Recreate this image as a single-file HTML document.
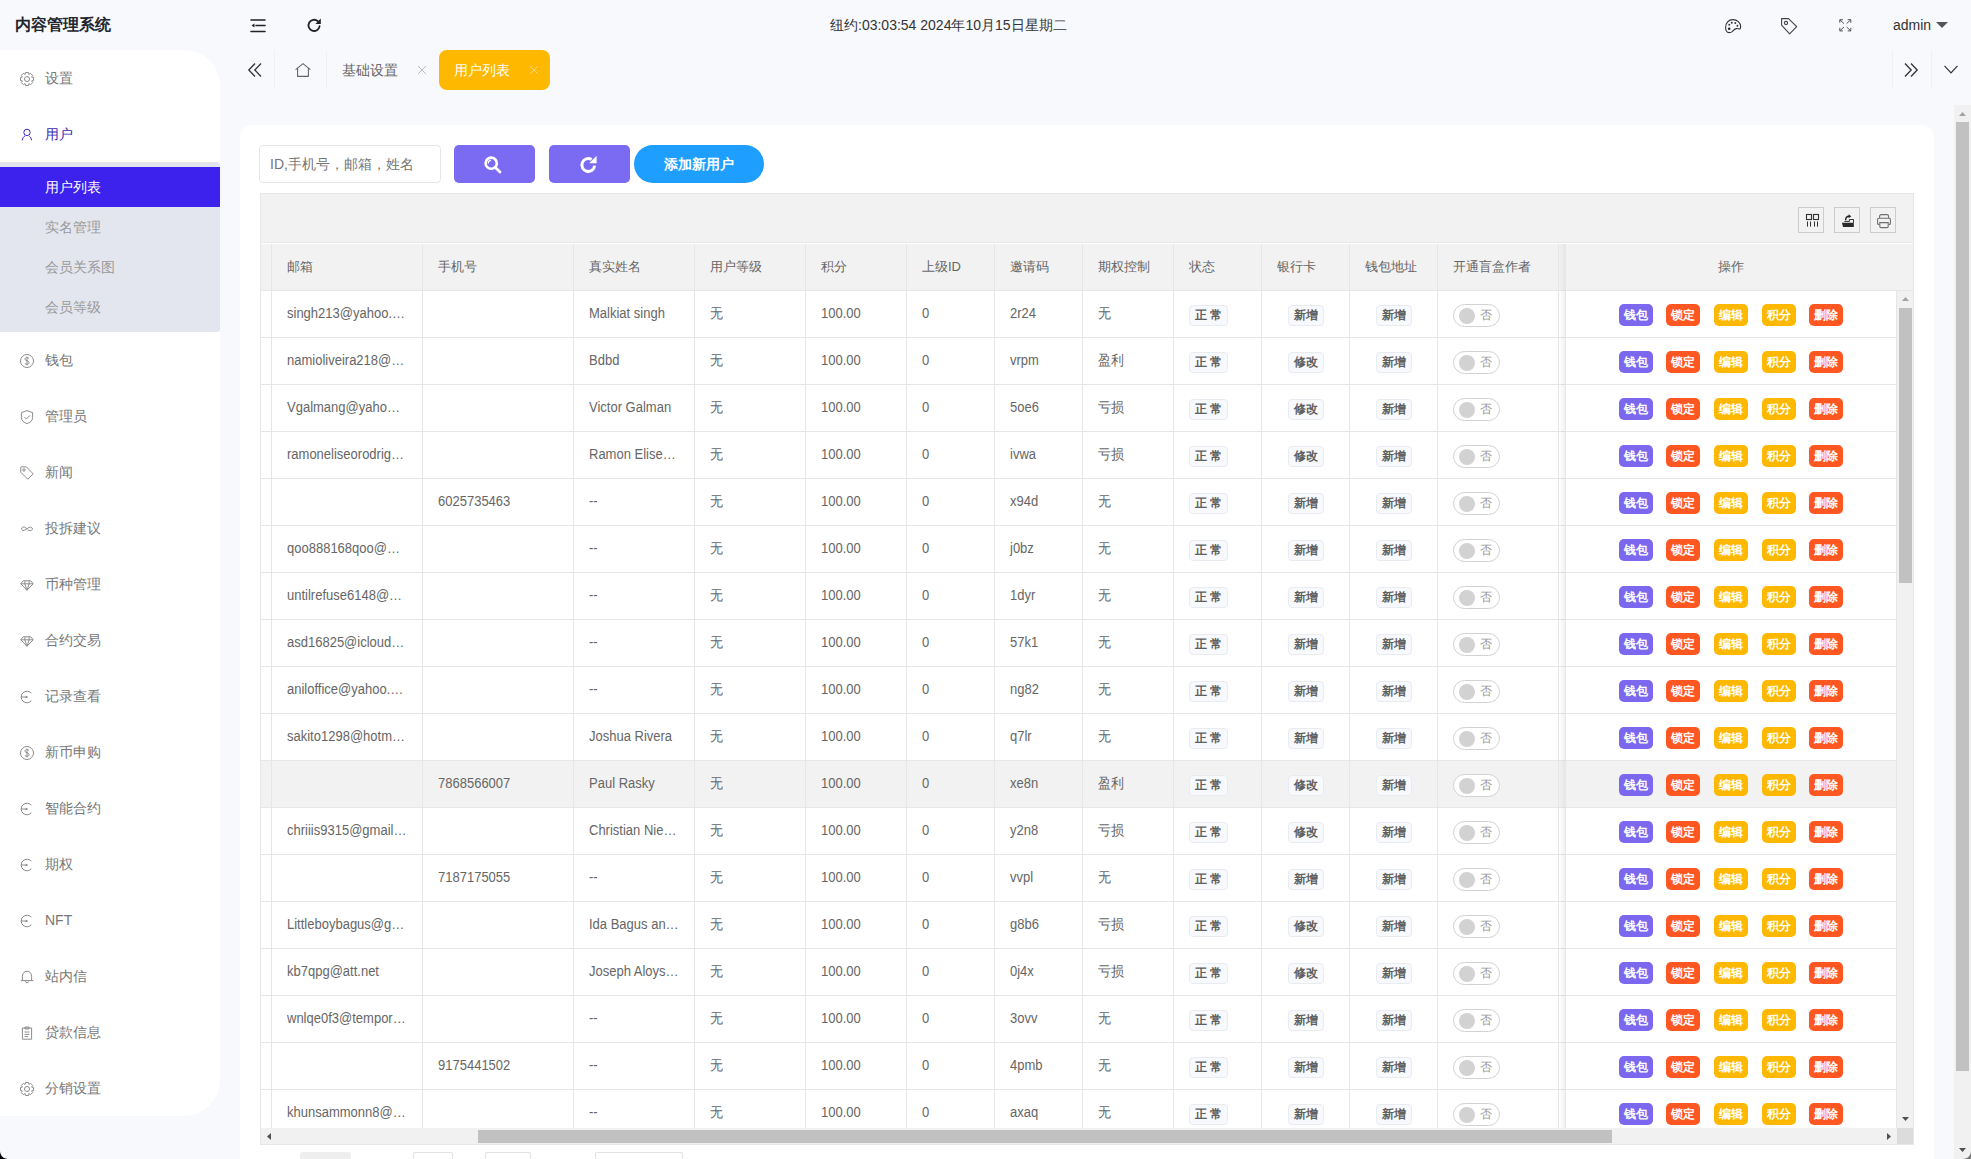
<!DOCTYPE html><html><head><meta charset="utf-8"><style>
*{box-sizing:border-box;margin:0;padding:0}
html,body{width:1971px;height:1159px;overflow:hidden}
body{position:relative;background:#f8f9fd;font-family:"Liberation Sans",sans-serif;font-size:14px;color:#666}
.a{position:absolute}
svg{position:absolute;overflow:visible}
.logo{left:15px;top:14px;font-size:16px;font-weight:bold;color:#23262e;line-height:22px;white-space:nowrap}
.time{left:830px;top:16px;line-height:18px;color:#333;white-space:nowrap}
.admin{left:1893px;top:16px;line-height:18px;color:#333}
.side{left:0;top:50px;width:220px;height:1066px;background:#fff;border-radius:0 36px 36px 0}
.mi{position:absolute;left:0;width:220px;height:56px;line-height:56px}
.mi span{position:absolute;left:45px;top:0;color:#777}
.sub{left:0;top:162px;width:220px;height:170px;background:#e4e6ef;border-radius:0 3px 3px 0}
.si{position:absolute;left:0;width:220px;height:40px;line-height:40px}
.si span{position:absolute;left:45px;color:#9a9a9a}
.tabt{left:342px;top:60px;line-height:20px;color:#666}
.tabact{left:439px;top:50px;width:111px;height:40px;border-radius:8px;background:#ffb800}
.card{left:240px;top:125px;width:1694px;height:1100px;background:#fff;border-radius:12px}
.inp{left:259px;top:145px;width:182px;height:38px;border:1px solid #e6e6e6;border-radius:4px;background:#fff}
.inp span{position:absolute;left:10px;top:9px;line-height:18px;color:#757575;white-space:nowrap}
.btn{top:145px;height:38px;border-radius:5px;background:#7b6bf2}
.addb{left:634px;top:145px;width:130px;height:38px;border-radius:19px;background:#1e9fff;color:#fff;font-weight:bold;text-align:center;line-height:38px}
.tbl{left:260px;top:193px;width:1654px;height:952px;border:1px solid #e6e6e6;background:#fff}
.tool{left:261px;top:194px;width:1652px;height:49px;background:#f2f2f2;border-bottom:1px solid #e6e6e6}
.tbox{top:207px;width:26px;height:26px;border:1px solid #ccc}
.head{left:261px;top:244px;width:1652px;height:47px;background:#f2f2f2;border-bottom:1px solid #e6e6e6}
.vl{top:244px;width:1px;height:884px;background:#e6e6e6}
.hl{left:261px;width:1635px;height:1px;background:#e6e6e6}
.ht{top:258px;line-height:18px;font-size:13px;color:#666;white-space:nowrap}
.ct{line-height:18px;font-size:13px;transform:scaleY(1.08);transform-origin:0 13.5px;color:#666;white-space:nowrap}
.bdg{height:21px;line-height:19px;border:1px solid #e8ebf0;background:#f7f9fc;border-radius:4px;font-size:12px;font-weight:bold;color:#606060;text-align:center}
.sw{width:47px;height:23px;border:1px solid #d2d2d2;border-radius:12px;background:#fff}
.sw i{position:absolute;left:5px;top:3px;width:16px;height:16px;border-radius:50%;background:#d2d2d2}
.sw b{position:absolute;left:26px;top:2px;line-height:17px;font-size:12px;font-weight:normal;color:#999}
.ob{width:34px;height:22px;border-radius:5px;color:#fff;font-size:12px;font-weight:bold;line-height:22px;text-align:center}
.hov{left:261px;width:1636px;height:46px;background:#f2f2f2}
</style></head><body>
<div class="a logo">内容管理系统</div>
<svg style="left:250px;top:19px" width="16" height="14" viewBox="0 0 16 14"><g stroke="#222" stroke-width="1.6" stroke-linecap="round"><line x1="1" y1="1" x2="15" y2="1"/><line x1="6" y1="6.5" x2="15" y2="6.5"/><line x1="1" y1="12.5" x2="15" y2="12.5"/></g><path d="M1.5 6.5 L4.5 4.5 L4.5 8.5Z" fill="#222"/></svg>
<svg style="left:307px;top:18px" width="15" height="15" viewBox="0 0 15 15"><path d="M12.6 8.2 A5.6 5.6 0 1 1 10.8 3.2" fill="none" stroke="#222" stroke-width="1.8" stroke-linecap="round"/><path d="M13.8 0.6 L13.8 6 L8.4 6Z" fill="#222"/></svg>
<div class="a time">纽约:03:03:54 2024年10月15日星期二</div>
<svg style="left:1725px;top:19px" width="17" height="15" viewBox="0 0 17 15"><path d="M4.2 13.6 C1.6 13.6 0.6 11 0.6 8.5 C0.6 4 3.6 0.6 7.8 0.6 C12.2 0.6 15.6 3.6 15.6 7.4 C15.6 9.2 15.3 10 14.6 10 C13.6 10 12.6 9.4 11.4 9.6 C9.4 10 8.2 11.6 7.2 12.6 C6.4 13.3 5.4 13.6 4.2 13.6Z" fill="none" stroke="#333" stroke-width="1.1"/><circle cx="4.2" cy="9.7" r="1.25" fill="#222"/><circle cx="4.3" cy="5.8" r="0.95" fill="#333"/><circle cx="6.8" cy="3.7" r="0.95" fill="#333"/><circle cx="10.3" cy="4" r="0.95" fill="#333"/><circle cx="12.4" cy="6.8" r="0.95" fill="#333"/></svg>
<svg style="left:1781px;top:18px" width="17" height="17" viewBox="0 0 17 17"><path d="M0.6 0.6 H7.5 L15.7 8.7 L8.6 15.8 L0.6 7.2Z" fill="none" stroke="#444" stroke-width="1.1" stroke-linejoin="round"/><circle cx="5" cy="5" r="1.6" fill="none" stroke="#444" stroke-width="1.1"/></svg>
<svg style="left:1838.5px;top:19px" width="13" height="13" viewBox="0 0 13 13"><g fill="none" stroke="#555" stroke-width="1"><path d="M5 4.6 L0.9 0.8 M0.8 3.8 V0.7 H3.9"/><path d="M7.6 4.6 L11.7 0.8 M8.7 0.7 H11.8 V3.8"/><path d="M5 8 L0.9 11.8 M0.8 8.8 V11.9 H3.9"/><path d="M7.6 8 L11.7 11.8 M11.8 8.8 V11.9 H8.7"/></g></svg>
<div class="a admin">admin</div>
<svg style="left:1936px;top:22px" width="12" height="6" viewBox="0 0 12 6"><path d="M0 0 H12 L6 6Z" fill="#555"/></svg>
<div class="a side"></div>
<svg style="left:20px;top:72px" width="14" height="14" viewBox="0 0 14 14"><path d="M5.13 2.36 L5.49 0.47 L8.51 0.47 L8.87 2.36 L8.95 2.40 L10.55 1.32 L12.68 3.45 L11.60 5.05 L11.64 5.13 L13.53 5.49 L13.53 8.51 L11.64 8.87 L11.60 8.95 L12.68 10.55 L10.55 12.68 L8.95 11.60 L8.87 11.64 L8.51 13.53 L5.49 13.53 L5.13 11.64 L5.05 11.60 L3.45 12.68 L1.32 10.55 L2.40 8.95 L2.36 8.87 L0.47 8.51 L0.47 5.49 L2.36 5.13 L2.40 5.05 L1.32 3.45 L3.45 1.32 L5.05 2.40Z" fill="none" stroke="#8c8c8c" stroke-width="1" stroke-linejoin="round"/><circle cx="7" cy="7" r="2.5" fill="none" stroke="#8c8c8c" stroke-width="1"/></svg>
<div class="mi" style="top:50px"><span>设置</span></div>
<svg style="left:20px;top:128px" width="14" height="14" viewBox="0 0 14 14"><circle cx="7" cy="4.4" r="3.2" fill="none" stroke="#3a2ab4" stroke-width="1" stroke-width="1.1"/><path d="M2.3 12.3 C2.6 10.2 3.4 8.8 4.9 8 M9.3 8.2 C10.4 9 11.2 10.2 11.6 12.3" fill="none" stroke="#3a2ab4" stroke-width="1" stroke-width="1.1"/></svg>
<div class="mi" style="top:106px"><span style="color:#3a2ab4">用户</span></div>
<div class="a sub"></div>
<div class="a" style="left:0;top:167px;width:220px;height:40px;background:#3d21ec"></div>
<div class="si" style="top:167px"><span style="color:#fff">用户列表</span></div>
<div class="si" style="top:207px"><span style="color:#9a9a9a">实名管理</span></div>
<div class="si" style="top:247px"><span style="color:#9a9a9a">会员关系图</span></div>
<div class="si" style="top:287px"><span style="color:#9a9a9a">会员等级</span></div>
<svg style="left:20px;top:354px" width="14" height="14" viewBox="0 0 14 14"><circle cx="7" cy="7" r="6.5" fill="none" stroke="#8c8c8c" stroke-width="1"/><path d="M9 4.6 C8.5 3.8 7.8 3.6 7 3.6 C5.8 3.6 5 4.3 5 5.2 C5 7.2 9 6.4 9 8.6 C9 9.6 8.2 10.3 7 10.3 C6 10.3 5.3 9.9 4.9 9.2 M7 2.6 V11.4" fill="none" stroke="#8c8c8c" stroke-width="1"/></svg>
<div class="mi" style="top:332px"><span>钱包</span></div>
<svg style="left:20px;top:410px" width="14" height="14" viewBox="0 0 14 14"><path d="M7 0.6 L12.6 2.6 V7.6 C12.6 10.6 10 12.6 7 13.6 C4 12.6 1.4 10.6 1.4 7.6 V2.6Z" fill="none" stroke="#8c8c8c" stroke-width="1"/><path d="M4.4 7 L6.4 9 L9.8 5.4" fill="none" stroke="#8c8c8c" stroke-width="1"/></svg>
<div class="mi" style="top:388px"><span>管理员</span></div>
<svg style="left:20px;top:466px" width="14" height="14" viewBox="0 0 14 14"><path d="M0.8 1.2 V6.2 L7.8 13.2 L13.2 7.8 L6.2 0.8 H1.2Z" fill="none" stroke="#8c8c8c" stroke-width="1" stroke-linejoin="round"/><circle cx="4" cy="4" r="1.2" fill="none" stroke="#8c8c8c" stroke-width="1"/></svg>
<div class="mi" style="top:444px"><span>新闻</span></div>
<svg style="left:20px;top:522px" width="14" height="14" viewBox="0 0 14 14"><path d="M7 7 C5.5 5 3.6 4.6 2.4 5.4 C1.2 6.2 1.4 8 2.8 8.4 C4.2 8.8 5.6 7.6 7 6.6 C8.4 5.6 10 4.8 11.4 5.4 C12.8 6 12.8 7.8 11.4 8.4 C10 9 8.2 8.4 7.4 7.6" fill="none" stroke="#8c8c8c" stroke-width="1" stroke-width="1.1"/></svg>
<div class="mi" style="top:500px"><span>投拆建议</span></div>
<svg style="left:20px;top:578px" width="14" height="14" viewBox="0 0 14 14"><path d="M3.2 2.8 H10.8 L13.2 5.8 L7 12.2 L0.8 5.8Z M0.8 5.8 H13.2 M4.8 5.8 L7 12.2 L9.2 5.8 M5 2.8 L4.8 5.8 M9 2.8 L9.2 5.8" fill="none" stroke="#8c8c8c" stroke-width="1" stroke-linejoin="round"/></svg>
<div class="mi" style="top:556px"><span>币种管理</span></div>
<svg style="left:20px;top:634px" width="14" height="14" viewBox="0 0 14 14"><path d="M3.2 2.8 H10.8 L13.2 5.8 L7 12.2 L0.8 5.8Z M0.8 5.8 H13.2 M4.8 5.8 L7 12.2 L9.2 5.8 M5 2.8 L4.8 5.8 M9 2.8 L9.2 5.8" fill="none" stroke="#8c8c8c" stroke-width="1" stroke-linejoin="round"/></svg>
<div class="mi" style="top:612px"><span>合约交易</span></div>
<svg style="left:20px;top:690px" width="14" height="14" viewBox="0 0 14 14"><path d="M11.4 3.2 A5.8 5.8 0 1 0 11.4 10.8" fill="none" stroke="#8c8c8c" stroke-width="1"/><path d="M0.8 7 H6.4" fill="none" stroke="#8c8c8c" stroke-width="1"/><circle cx="6.6" cy="7" r="1.1" fill="#8c8c8c"/></svg>
<div class="mi" style="top:668px"><span>记录查看</span></div>
<svg style="left:20px;top:746px" width="14" height="14" viewBox="0 0 14 14"><circle cx="7" cy="7" r="6.5" fill="none" stroke="#8c8c8c" stroke-width="1"/><path d="M9 4.6 C8.5 3.8 7.8 3.6 7 3.6 C5.8 3.6 5 4.3 5 5.2 C5 7.2 9 6.4 9 8.6 C9 9.6 8.2 10.3 7 10.3 C6 10.3 5.3 9.9 4.9 9.2 M7 2.6 V11.4" fill="none" stroke="#8c8c8c" stroke-width="1"/></svg>
<div class="mi" style="top:724px"><span>新币申购</span></div>
<svg style="left:20px;top:802px" width="14" height="14" viewBox="0 0 14 14"><path d="M11.4 3.2 A5.8 5.8 0 1 0 11.4 10.8" fill="none" stroke="#8c8c8c" stroke-width="1"/><path d="M0.8 7 H6.4" fill="none" stroke="#8c8c8c" stroke-width="1"/><circle cx="6.6" cy="7" r="1.1" fill="#8c8c8c"/></svg>
<div class="mi" style="top:780px"><span>智能合约</span></div>
<svg style="left:20px;top:858px" width="14" height="14" viewBox="0 0 14 14"><path d="M11.4 3.2 A5.8 5.8 0 1 0 11.4 10.8" fill="none" stroke="#8c8c8c" stroke-width="1"/><path d="M0.8 7 H6.4" fill="none" stroke="#8c8c8c" stroke-width="1"/><circle cx="6.6" cy="7" r="1.1" fill="#8c8c8c"/></svg>
<div class="mi" style="top:836px"><span>期权</span></div>
<svg style="left:20px;top:914px" width="14" height="14" viewBox="0 0 14 14"><path d="M11.4 3.2 A5.8 5.8 0 1 0 11.4 10.8" fill="none" stroke="#8c8c8c" stroke-width="1"/><path d="M0.8 7 H6.4" fill="none" stroke="#8c8c8c" stroke-width="1"/><circle cx="6.6" cy="7" r="1.1" fill="#8c8c8c"/></svg>
<div class="mi" style="top:892px"><span>NFT</span></div>
<svg style="left:20px;top:970px" width="14" height="14" viewBox="0 0 14 14"><path d="M2.4 10.6 V6.2 C2.4 3.4 4.4 1.2 7 1.2 C9.6 1.2 11.6 3.4 11.6 6.2 V10.6 M0.8 10.6 H13.2 M5.6 10.8 V11.6 C5.6 12.4 6.2 12.8 7 12.8 C7.8 12.8 8.4 12.4 8.4 11.6 V10.8" fill="none" stroke="#8c8c8c" stroke-width="1"/></svg>
<div class="mi" style="top:948px"><span>站内信</span></div>
<svg style="left:20px;top:1026px" width="14" height="14" viewBox="0 0 14 14"><path d="M2.4 2 H11.6 V13.2 H2.4Z M5 2 V1 H9 V3 H5Z M4.6 6 H9.4 M4.6 8.4 H9.4 M4.6 10.6 H8" fill="none" stroke="#8c8c8c" stroke-width="1" stroke="#bbb"/></svg>
<div class="mi" style="top:1004px"><span>贷款信息</span></div>
<svg style="left:20px;top:1082px" width="14" height="14" viewBox="0 0 14 14"><path d="M5.13 2.36 L5.49 0.47 L8.51 0.47 L8.87 2.36 L8.95 2.40 L10.55 1.32 L12.68 3.45 L11.60 5.05 L11.64 5.13 L13.53 5.49 L13.53 8.51 L11.64 8.87 L11.60 8.95 L12.68 10.55 L10.55 12.68 L8.95 11.60 L8.87 11.64 L8.51 13.53 L5.49 13.53 L5.13 11.64 L5.05 11.60 L3.45 12.68 L1.32 10.55 L2.40 8.95 L2.36 8.87 L0.47 8.51 L0.47 5.49 L2.36 5.13 L2.40 5.05 L1.32 3.45 L3.45 1.32 L5.05 2.40Z" fill="none" stroke="#8c8c8c" stroke-width="1" stroke-linejoin="round"/><circle cx="7" cy="7" r="2.5" fill="none" stroke="#8c8c8c" stroke-width="1"/></svg>
<div class="mi" style="top:1060px"><span>分销设置</span></div>
<svg style="left:248px;top:63px" width="14" height="14" viewBox="0 0 14 14"><path d="M7 0.5 L0.8 7 L7 13.5 M13 0.5 L6.8 7 L13 13.5" fill="none" stroke="#333" stroke-width="1.3"/></svg>
<div class="a" style="left:274px;top:50px;width:1px;height:39px;background:#f0f1f5"></div>
<svg style="left:295px;top:63px" width="16" height="14" viewBox="0 0 16 14"><path d="M0.6 6.6 L8 0.6 L15.4 6.6 M2.6 5 V13.4 H13.4 V5" fill="none" stroke="#666" stroke-width="1.1"/></svg>
<div class="a" style="left:326px;top:50px;width:1px;height:39px;background:#f0f1f5"></div>
<div class="a tabt">基础设置</div>
<svg style="left:418px;top:66px" width="8" height="8" viewBox="0 0 8 8"><path d="M0 0 L8 8 M8 0 L0 8" stroke="#bbb" stroke-width="1"/></svg>
<div class="a tabact"></div>
<div class="a" style="left:454px;top:60px;line-height:20px;color:#fff">用户列表</div>
<svg style="left:530px;top:66px" width="8" height="8" viewBox="0 0 8 8"><path d="M0 0 L8 8 M8 0 L0 8" stroke="#ffd68a" stroke-width="1"/></svg>
<div class="a" style="left:1892px;top:50px;width:1px;height:39px;background:#f0f1f5"></div>
<div class="a" style="left:1931px;top:50px;width:1px;height:39px;background:#f0f1f5"></div>
<svg style="left:1904px;top:63px" width="14" height="14" viewBox="0 0 14 14"><path d="M1 0.5 L7.2 7 L1 13.5 M7 0.5 L13.2 7 L7 13.5" fill="none" stroke="#333" stroke-width="1.3"/></svg>
<svg style="left:1944px;top:65px" width="14" height="9" viewBox="0 0 14 9"><path d="M0.5 0.8 L7 7.8 L13.5 0.8" fill="none" stroke="#333" stroke-width="1.2"/></svg>
<div class="a" style="left:1954px;top:105px;width:17px;height:1054px;background:#f1f1f1"></div>
<div class="a" style="left:1956px;top:122px;width:13px;height:949px;background:#c1c1c1"></div>
<svg style="left:1959px;top:112px" width="7" height="4" viewBox="0 0 7 4"><path d="M0 4 H7 L3.5 0Z" fill="#a3a3a3"/></svg>
<svg style="left:1959px;top:1148px" width="7" height="4" viewBox="0 0 7 4"><path d="M0 0 H7 L3.5 4Z" fill="#505050"/></svg>
<div class="a card"></div>
<div class="a inp"><span>ID,手机号，邮箱，姓名</span></div>
<div class="a btn" style="left:454px;width:81px"></div>
<div class="a btn" style="left:549px;width:81px"></div>
<svg style="left:484px;top:156px" width="18" height="17" viewBox="0 0 18 17"><circle cx="7.2" cy="7.2" r="5.6" fill="none" stroke="#fff" stroke-width="2.6"/><path d="M11.4 11.4 L16 16" stroke="#fff" stroke-width="2.8" stroke-linecap="round"/><path d="M4.2 7.5 C4.2 5.6 5.4 4.4 7 4.2" fill="none" stroke="#fff" stroke-width="1.2"/></svg>
<svg style="left:579px;top:155px" width="19" height="19" viewBox="0 0 19 19"><path d="M15.6 10.6 A6.4 6.4 0 1 1 12.6 4.6" fill="none" stroke="#fff" stroke-width="3"/><path d="M17.6 0.8 L17.6 8.2 L10.2 8.2Z" fill="#fff"/></svg>
<div class="a addb">添加新用户</div>
<div class="a tbl"></div>
<div class="a tool"></div>
<div class="a tbox" style="left:1798px"></div>
<div class="a tbox" style="left:1834px"></div>
<div class="a tbox" style="left:1870px"></div>
<svg style="left:1806px;top:214px" width="13" height="13" viewBox="0 0 13 13"><g fill="none" stroke="#333" stroke-width="1.1"><rect x="0.5" y="0.5" width="5" height="5"/><rect x="7.5" y="0.5" width="5" height="5"/></g><g stroke="#333" stroke-width="1"><line x1="1.5" y1="7.5" x2="1.5" y2="12.6"/><line x1="4.5" y1="7.5" x2="4.5" y2="12.6"/><line x1="8.5" y1="7.5" x2="8.5" y2="12.6"/><line x1="11.5" y1="7.5" x2="11.5" y2="12.6"/></g></svg>
<svg style="left:1841px;top:213px" width="14" height="15" viewBox="0 0 14 15"><path d="M0.9 9.7 H12.8 V13.9 H2.1Z" fill="#2a2a2a"/><path d="M3.4 8.4 H8.4 V6.5 H12.5 V9.8" fill="none" stroke="#333" stroke-width="1"/><path d="M4.6 7.2 C4.6 4.4 5.8 3.2 8.2 3.2" fill="none" stroke="#222" stroke-width="1.4"/><path d="M7.6 1.2 L10.2 3.2 L7.6 5.2Z" fill="#222"/></svg>
<svg style="left:1877px;top:214px" width="15" height="15" viewBox="0 0 15 15"><g fill="none" stroke="#707070" stroke-width="1.1"><path d="M2.6 4 V2.2 C2.6 1.2 3.2 0.6 4.2 0.6 H10 C11 0.6 11.6 1.2 11.6 2.2 V4"/><path d="M2.4 10.4 H1.6 C0.9 10.4 0.6 10 0.6 9.4 V5.4 C0.6 4.6 1 4.2 1.8 4.2 H12.2 C13 4.2 13.4 4.6 13.4 5.4 V9.4 C13.4 10 13.1 10.4 12.4 10.4 H11.6"/><path d="M2.8 8.6 H11.2 V12.4 C11.2 13.1 10.8 13.6 10 13.6 H4 C3.2 13.6 2.8 13.1 2.8 12.4Z"/></g></svg>
<div class="a head"></div>
<div class="a hov" style="top:761px"></div>
<div class="a hl" style="top:337px"></div>
<div class="a hl" style="top:384px"></div>
<div class="a hl" style="top:431px"></div>
<div class="a hl" style="top:478px"></div>
<div class="a hl" style="top:525px"></div>
<div class="a hl" style="top:572px"></div>
<div class="a hl" style="top:619px"></div>
<div class="a hl" style="top:666px"></div>
<div class="a hl" style="top:713px"></div>
<div class="a hl" style="top:760px"></div>
<div class="a hl" style="top:807px"></div>
<div class="a hl" style="top:854px"></div>
<div class="a hl" style="top:901px"></div>
<div class="a hl" style="top:948px"></div>
<div class="a hl" style="top:995px"></div>
<div class="a hl" style="top:1042px"></div>
<div class="a hl" style="top:1089px"></div>
<div class="a hl" style="top:1136px"></div>
<div class="a vl" style="left:271px"></div>
<div class="a vl" style="left:422px"></div>
<div class="a vl" style="left:573px"></div>
<div class="a vl" style="left:694px"></div>
<div class="a vl" style="left:805px"></div>
<div class="a vl" style="left:906px"></div>
<div class="a vl" style="left:994px"></div>
<div class="a vl" style="left:1082px"></div>
<div class="a vl" style="left:1173px"></div>
<div class="a vl" style="left:1261px"></div>
<div class="a vl" style="left:1349px"></div>
<div class="a vl" style="left:1437px"></div>
<div class="a vl" style="left:1558px"></div>
<div class="a ht" style="left:287px">邮箱</div>
<div class="a ht" style="left:438px">手机号</div>
<div class="a ht" style="left:589px">真实姓名</div>
<div class="a ht" style="left:710px">用户等级</div>
<div class="a ht" style="left:821px">积分</div>
<div class="a ht" style="left:922px">上级ID</div>
<div class="a ht" style="left:1010px">邀请码</div>
<div class="a ht" style="left:1098px">期权控制</div>
<div class="a ht" style="left:1189px">状态</div>
<div class="a ht" style="left:1277px">银行卡</div>
<div class="a ht" style="left:1365px">钱包地址</div>
<div class="a ht" style="left:1453px">开通盲盒作者</div>
<div class="a ct" style="left:287px;top:305px">singh213@yahoo.…</div>
<div class="a ct" style="left:589px;top:305px">Malkiat singh</div>
<div class="a ct" style="left:710px;top:305px">无</div>
<div class="a ct" style="left:821px;top:305px">100.00</div>
<div class="a ct" style="left:922px;top:305px">0</div>
<div class="a ct" style="left:1010px;top:305px">2r24</div>
<div class="a ct" style="left:1098px;top:305px">无</div>
<div class="a bdg" style="left:1189px;top:305px;width:39px">正 常</div>
<div class="a bdg" style="left:1288px;top:305px;width:36px">新增</div>
<div class="a bdg" style="left:1376px;top:305px;width:36px">新增</div>
<div class="a sw" style="left:1453px;top:304px"><i></i><b>否</b></div>
<div class="a ct" style="left:287px;top:352px">namioliveira218@…</div>
<div class="a ct" style="left:589px;top:352px">Bdbd</div>
<div class="a ct" style="left:710px;top:352px">无</div>
<div class="a ct" style="left:821px;top:352px">100.00</div>
<div class="a ct" style="left:922px;top:352px">0</div>
<div class="a ct" style="left:1010px;top:352px">vrpm</div>
<div class="a ct" style="left:1098px;top:352px">盈利</div>
<div class="a bdg" style="left:1189px;top:352px;width:39px">正 常</div>
<div class="a bdg" style="left:1288px;top:352px;width:36px">修改</div>
<div class="a bdg" style="left:1376px;top:352px;width:36px">新增</div>
<div class="a sw" style="left:1453px;top:351px"><i></i><b>否</b></div>
<div class="a ct" style="left:287px;top:399px">Vgalmang@yaho…</div>
<div class="a ct" style="left:589px;top:399px">Victor Galman</div>
<div class="a ct" style="left:710px;top:399px">无</div>
<div class="a ct" style="left:821px;top:399px">100.00</div>
<div class="a ct" style="left:922px;top:399px">0</div>
<div class="a ct" style="left:1010px;top:399px">5oe6</div>
<div class="a ct" style="left:1098px;top:399px">亏损</div>
<div class="a bdg" style="left:1189px;top:399px;width:39px">正 常</div>
<div class="a bdg" style="left:1288px;top:399px;width:36px">修改</div>
<div class="a bdg" style="left:1376px;top:399px;width:36px">新增</div>
<div class="a sw" style="left:1453px;top:398px"><i></i><b>否</b></div>
<div class="a ct" style="left:287px;top:446px">ramoneliseorodrig…</div>
<div class="a ct" style="left:589px;top:446px">Ramon Elise…</div>
<div class="a ct" style="left:710px;top:446px">无</div>
<div class="a ct" style="left:821px;top:446px">100.00</div>
<div class="a ct" style="left:922px;top:446px">0</div>
<div class="a ct" style="left:1010px;top:446px">ivwa</div>
<div class="a ct" style="left:1098px;top:446px">亏损</div>
<div class="a bdg" style="left:1189px;top:446px;width:39px">正 常</div>
<div class="a bdg" style="left:1288px;top:446px;width:36px">修改</div>
<div class="a bdg" style="left:1376px;top:446px;width:36px">新增</div>
<div class="a sw" style="left:1453px;top:445px"><i></i><b>否</b></div>
<div class="a ct" style="left:438px;top:493px">6025735463</div>
<div class="a ct" style="left:589px;top:493px">--</div>
<div class="a ct" style="left:710px;top:493px">无</div>
<div class="a ct" style="left:821px;top:493px">100.00</div>
<div class="a ct" style="left:922px;top:493px">0</div>
<div class="a ct" style="left:1010px;top:493px">x94d</div>
<div class="a ct" style="left:1098px;top:493px">无</div>
<div class="a bdg" style="left:1189px;top:493px;width:39px">正 常</div>
<div class="a bdg" style="left:1288px;top:493px;width:36px">新增</div>
<div class="a bdg" style="left:1376px;top:493px;width:36px">新增</div>
<div class="a sw" style="left:1453px;top:492px"><i></i><b>否</b></div>
<div class="a ct" style="left:287px;top:540px">qoo888168qoo@…</div>
<div class="a ct" style="left:589px;top:540px">--</div>
<div class="a ct" style="left:710px;top:540px">无</div>
<div class="a ct" style="left:821px;top:540px">100.00</div>
<div class="a ct" style="left:922px;top:540px">0</div>
<div class="a ct" style="left:1010px;top:540px">j0bz</div>
<div class="a ct" style="left:1098px;top:540px">无</div>
<div class="a bdg" style="left:1189px;top:540px;width:39px">正 常</div>
<div class="a bdg" style="left:1288px;top:540px;width:36px">新增</div>
<div class="a bdg" style="left:1376px;top:540px;width:36px">新增</div>
<div class="a sw" style="left:1453px;top:539px"><i></i><b>否</b></div>
<div class="a ct" style="left:287px;top:587px">untilrefuse6148@…</div>
<div class="a ct" style="left:589px;top:587px">--</div>
<div class="a ct" style="left:710px;top:587px">无</div>
<div class="a ct" style="left:821px;top:587px">100.00</div>
<div class="a ct" style="left:922px;top:587px">0</div>
<div class="a ct" style="left:1010px;top:587px">1dyr</div>
<div class="a ct" style="left:1098px;top:587px">无</div>
<div class="a bdg" style="left:1189px;top:587px;width:39px">正 常</div>
<div class="a bdg" style="left:1288px;top:587px;width:36px">新增</div>
<div class="a bdg" style="left:1376px;top:587px;width:36px">新增</div>
<div class="a sw" style="left:1453px;top:586px"><i></i><b>否</b></div>
<div class="a ct" style="left:287px;top:634px">asd16825@icloud…</div>
<div class="a ct" style="left:589px;top:634px">--</div>
<div class="a ct" style="left:710px;top:634px">无</div>
<div class="a ct" style="left:821px;top:634px">100.00</div>
<div class="a ct" style="left:922px;top:634px">0</div>
<div class="a ct" style="left:1010px;top:634px">57k1</div>
<div class="a ct" style="left:1098px;top:634px">无</div>
<div class="a bdg" style="left:1189px;top:634px;width:39px">正 常</div>
<div class="a bdg" style="left:1288px;top:634px;width:36px">新增</div>
<div class="a bdg" style="left:1376px;top:634px;width:36px">新增</div>
<div class="a sw" style="left:1453px;top:633px"><i></i><b>否</b></div>
<div class="a ct" style="left:287px;top:681px">aniloffice@yahoo.…</div>
<div class="a ct" style="left:589px;top:681px">--</div>
<div class="a ct" style="left:710px;top:681px">无</div>
<div class="a ct" style="left:821px;top:681px">100.00</div>
<div class="a ct" style="left:922px;top:681px">0</div>
<div class="a ct" style="left:1010px;top:681px">ng82</div>
<div class="a ct" style="left:1098px;top:681px">无</div>
<div class="a bdg" style="left:1189px;top:681px;width:39px">正 常</div>
<div class="a bdg" style="left:1288px;top:681px;width:36px">新增</div>
<div class="a bdg" style="left:1376px;top:681px;width:36px">新增</div>
<div class="a sw" style="left:1453px;top:680px"><i></i><b>否</b></div>
<div class="a ct" style="left:287px;top:728px">sakito1298@hotm…</div>
<div class="a ct" style="left:589px;top:728px">Joshua Rivera</div>
<div class="a ct" style="left:710px;top:728px">无</div>
<div class="a ct" style="left:821px;top:728px">100.00</div>
<div class="a ct" style="left:922px;top:728px">0</div>
<div class="a ct" style="left:1010px;top:728px">q7lr</div>
<div class="a ct" style="left:1098px;top:728px">无</div>
<div class="a bdg" style="left:1189px;top:728px;width:39px">正 常</div>
<div class="a bdg" style="left:1288px;top:728px;width:36px">新增</div>
<div class="a bdg" style="left:1376px;top:728px;width:36px">新增</div>
<div class="a sw" style="left:1453px;top:727px"><i></i><b>否</b></div>
<div class="a ct" style="left:438px;top:775px">7868566007</div>
<div class="a ct" style="left:589px;top:775px">Paul Rasky</div>
<div class="a ct" style="left:710px;top:775px">无</div>
<div class="a ct" style="left:821px;top:775px">100.00</div>
<div class="a ct" style="left:922px;top:775px">0</div>
<div class="a ct" style="left:1010px;top:775px">xe8n</div>
<div class="a ct" style="left:1098px;top:775px">盈利</div>
<div class="a bdg" style="left:1189px;top:775px;width:39px">正 常</div>
<div class="a bdg" style="left:1288px;top:775px;width:36px">修改</div>
<div class="a bdg" style="left:1376px;top:775px;width:36px">新增</div>
<div class="a sw" style="left:1453px;top:774px"><i></i><b>否</b></div>
<div class="a ct" style="left:287px;top:822px">chriiis9315@gmail…</div>
<div class="a ct" style="left:589px;top:822px">Christian Nie…</div>
<div class="a ct" style="left:710px;top:822px">无</div>
<div class="a ct" style="left:821px;top:822px">100.00</div>
<div class="a ct" style="left:922px;top:822px">0</div>
<div class="a ct" style="left:1010px;top:822px">y2n8</div>
<div class="a ct" style="left:1098px;top:822px">亏损</div>
<div class="a bdg" style="left:1189px;top:822px;width:39px">正 常</div>
<div class="a bdg" style="left:1288px;top:822px;width:36px">修改</div>
<div class="a bdg" style="left:1376px;top:822px;width:36px">新增</div>
<div class="a sw" style="left:1453px;top:821px"><i></i><b>否</b></div>
<div class="a ct" style="left:438px;top:869px">7187175055</div>
<div class="a ct" style="left:589px;top:869px">--</div>
<div class="a ct" style="left:710px;top:869px">无</div>
<div class="a ct" style="left:821px;top:869px">100.00</div>
<div class="a ct" style="left:922px;top:869px">0</div>
<div class="a ct" style="left:1010px;top:869px">vvpl</div>
<div class="a ct" style="left:1098px;top:869px">无</div>
<div class="a bdg" style="left:1189px;top:869px;width:39px">正 常</div>
<div class="a bdg" style="left:1288px;top:869px;width:36px">新增</div>
<div class="a bdg" style="left:1376px;top:869px;width:36px">新增</div>
<div class="a sw" style="left:1453px;top:868px"><i></i><b>否</b></div>
<div class="a ct" style="left:287px;top:916px">Littleboybagus@g…</div>
<div class="a ct" style="left:589px;top:916px">Ida Bagus an…</div>
<div class="a ct" style="left:710px;top:916px">无</div>
<div class="a ct" style="left:821px;top:916px">100.00</div>
<div class="a ct" style="left:922px;top:916px">0</div>
<div class="a ct" style="left:1010px;top:916px">g8b6</div>
<div class="a ct" style="left:1098px;top:916px">亏损</div>
<div class="a bdg" style="left:1189px;top:916px;width:39px">正 常</div>
<div class="a bdg" style="left:1288px;top:916px;width:36px">修改</div>
<div class="a bdg" style="left:1376px;top:916px;width:36px">新增</div>
<div class="a sw" style="left:1453px;top:915px"><i></i><b>否</b></div>
<div class="a ct" style="left:287px;top:963px">kb7qpg@att.net</div>
<div class="a ct" style="left:589px;top:963px">Joseph Aloys…</div>
<div class="a ct" style="left:710px;top:963px">无</div>
<div class="a ct" style="left:821px;top:963px">100.00</div>
<div class="a ct" style="left:922px;top:963px">0</div>
<div class="a ct" style="left:1010px;top:963px">0j4x</div>
<div class="a ct" style="left:1098px;top:963px">亏损</div>
<div class="a bdg" style="left:1189px;top:963px;width:39px">正 常</div>
<div class="a bdg" style="left:1288px;top:963px;width:36px">修改</div>
<div class="a bdg" style="left:1376px;top:963px;width:36px">新增</div>
<div class="a sw" style="left:1453px;top:962px"><i></i><b>否</b></div>
<div class="a ct" style="left:287px;top:1010px">wnlqe0f3@tempor…</div>
<div class="a ct" style="left:589px;top:1010px">--</div>
<div class="a ct" style="left:710px;top:1010px">无</div>
<div class="a ct" style="left:821px;top:1010px">100.00</div>
<div class="a ct" style="left:922px;top:1010px">0</div>
<div class="a ct" style="left:1010px;top:1010px">3ovv</div>
<div class="a ct" style="left:1098px;top:1010px">无</div>
<div class="a bdg" style="left:1189px;top:1010px;width:39px">正 常</div>
<div class="a bdg" style="left:1288px;top:1010px;width:36px">新增</div>
<div class="a bdg" style="left:1376px;top:1010px;width:36px">新增</div>
<div class="a sw" style="left:1453px;top:1009px"><i></i><b>否</b></div>
<div class="a ct" style="left:438px;top:1057px">9175441502</div>
<div class="a ct" style="left:589px;top:1057px">--</div>
<div class="a ct" style="left:710px;top:1057px">无</div>
<div class="a ct" style="left:821px;top:1057px">100.00</div>
<div class="a ct" style="left:922px;top:1057px">0</div>
<div class="a ct" style="left:1010px;top:1057px">4pmb</div>
<div class="a ct" style="left:1098px;top:1057px">无</div>
<div class="a bdg" style="left:1189px;top:1057px;width:39px">正 常</div>
<div class="a bdg" style="left:1288px;top:1057px;width:36px">新增</div>
<div class="a bdg" style="left:1376px;top:1057px;width:36px">新增</div>
<div class="a sw" style="left:1453px;top:1056px"><i></i><b>否</b></div>
<div class="a ct" style="left:287px;top:1104px">khunsammonn8@…</div>
<div class="a ct" style="left:589px;top:1104px">--</div>
<div class="a ct" style="left:710px;top:1104px">无</div>
<div class="a ct" style="left:821px;top:1104px">100.00</div>
<div class="a ct" style="left:922px;top:1104px">0</div>
<div class="a ct" style="left:1010px;top:1104px">axaq</div>
<div class="a ct" style="left:1098px;top:1104px">无</div>
<div class="a bdg" style="left:1189px;top:1104px;width:39px">正 常</div>
<div class="a bdg" style="left:1288px;top:1104px;width:36px">新增</div>
<div class="a bdg" style="left:1376px;top:1104px;width:36px">新增</div>
<div class="a sw" style="left:1453px;top:1103px"><i></i><b>否</b></div>
<div class="a" style="left:1559px;top:244px;width:6px;height:884px;background:linear-gradient(to right,rgba(0,0,0,0),rgba(0,0,0,.05))"></div>
<div class="a vl" style="left:1565px"></div>
<div class="a ht" style="left:1718px">操作</div>
<div class="a ob" style="left:1619px;top:304px;background:#7b68ee">钱包</div>
<div class="a ob" style="left:1666px;top:304px;background:#ff5722">锁定</div>
<div class="a ob" style="left:1714px;top:304px;background:#ffb800">编辑</div>
<div class="a ob" style="left:1762px;top:304px;background:#ffb800">积分</div>
<div class="a ob" style="left:1809px;top:304px;background:#ff5722">删除</div>
<div class="a ob" style="left:1619px;top:351px;background:#7b68ee">钱包</div>
<div class="a ob" style="left:1666px;top:351px;background:#ff5722">锁定</div>
<div class="a ob" style="left:1714px;top:351px;background:#ffb800">编辑</div>
<div class="a ob" style="left:1762px;top:351px;background:#ffb800">积分</div>
<div class="a ob" style="left:1809px;top:351px;background:#ff5722">删除</div>
<div class="a ob" style="left:1619px;top:398px;background:#7b68ee">钱包</div>
<div class="a ob" style="left:1666px;top:398px;background:#ff5722">锁定</div>
<div class="a ob" style="left:1714px;top:398px;background:#ffb800">编辑</div>
<div class="a ob" style="left:1762px;top:398px;background:#ffb800">积分</div>
<div class="a ob" style="left:1809px;top:398px;background:#ff5722">删除</div>
<div class="a ob" style="left:1619px;top:445px;background:#7b68ee">钱包</div>
<div class="a ob" style="left:1666px;top:445px;background:#ff5722">锁定</div>
<div class="a ob" style="left:1714px;top:445px;background:#ffb800">编辑</div>
<div class="a ob" style="left:1762px;top:445px;background:#ffb800">积分</div>
<div class="a ob" style="left:1809px;top:445px;background:#ff5722">删除</div>
<div class="a ob" style="left:1619px;top:492px;background:#7b68ee">钱包</div>
<div class="a ob" style="left:1666px;top:492px;background:#ff5722">锁定</div>
<div class="a ob" style="left:1714px;top:492px;background:#ffb800">编辑</div>
<div class="a ob" style="left:1762px;top:492px;background:#ffb800">积分</div>
<div class="a ob" style="left:1809px;top:492px;background:#ff5722">删除</div>
<div class="a ob" style="left:1619px;top:539px;background:#7b68ee">钱包</div>
<div class="a ob" style="left:1666px;top:539px;background:#ff5722">锁定</div>
<div class="a ob" style="left:1714px;top:539px;background:#ffb800">编辑</div>
<div class="a ob" style="left:1762px;top:539px;background:#ffb800">积分</div>
<div class="a ob" style="left:1809px;top:539px;background:#ff5722">删除</div>
<div class="a ob" style="left:1619px;top:586px;background:#7b68ee">钱包</div>
<div class="a ob" style="left:1666px;top:586px;background:#ff5722">锁定</div>
<div class="a ob" style="left:1714px;top:586px;background:#ffb800">编辑</div>
<div class="a ob" style="left:1762px;top:586px;background:#ffb800">积分</div>
<div class="a ob" style="left:1809px;top:586px;background:#ff5722">删除</div>
<div class="a ob" style="left:1619px;top:633px;background:#7b68ee">钱包</div>
<div class="a ob" style="left:1666px;top:633px;background:#ff5722">锁定</div>
<div class="a ob" style="left:1714px;top:633px;background:#ffb800">编辑</div>
<div class="a ob" style="left:1762px;top:633px;background:#ffb800">积分</div>
<div class="a ob" style="left:1809px;top:633px;background:#ff5722">删除</div>
<div class="a ob" style="left:1619px;top:680px;background:#7b68ee">钱包</div>
<div class="a ob" style="left:1666px;top:680px;background:#ff5722">锁定</div>
<div class="a ob" style="left:1714px;top:680px;background:#ffb800">编辑</div>
<div class="a ob" style="left:1762px;top:680px;background:#ffb800">积分</div>
<div class="a ob" style="left:1809px;top:680px;background:#ff5722">删除</div>
<div class="a ob" style="left:1619px;top:727px;background:#7b68ee">钱包</div>
<div class="a ob" style="left:1666px;top:727px;background:#ff5722">锁定</div>
<div class="a ob" style="left:1714px;top:727px;background:#ffb800">编辑</div>
<div class="a ob" style="left:1762px;top:727px;background:#ffb800">积分</div>
<div class="a ob" style="left:1809px;top:727px;background:#ff5722">删除</div>
<div class="a ob" style="left:1619px;top:774px;background:#7b68ee">钱包</div>
<div class="a ob" style="left:1666px;top:774px;background:#ff5722">锁定</div>
<div class="a ob" style="left:1714px;top:774px;background:#ffb800">编辑</div>
<div class="a ob" style="left:1762px;top:774px;background:#ffb800">积分</div>
<div class="a ob" style="left:1809px;top:774px;background:#ff5722">删除</div>
<div class="a ob" style="left:1619px;top:821px;background:#7b68ee">钱包</div>
<div class="a ob" style="left:1666px;top:821px;background:#ff5722">锁定</div>
<div class="a ob" style="left:1714px;top:821px;background:#ffb800">编辑</div>
<div class="a ob" style="left:1762px;top:821px;background:#ffb800">积分</div>
<div class="a ob" style="left:1809px;top:821px;background:#ff5722">删除</div>
<div class="a ob" style="left:1619px;top:868px;background:#7b68ee">钱包</div>
<div class="a ob" style="left:1666px;top:868px;background:#ff5722">锁定</div>
<div class="a ob" style="left:1714px;top:868px;background:#ffb800">编辑</div>
<div class="a ob" style="left:1762px;top:868px;background:#ffb800">积分</div>
<div class="a ob" style="left:1809px;top:868px;background:#ff5722">删除</div>
<div class="a ob" style="left:1619px;top:915px;background:#7b68ee">钱包</div>
<div class="a ob" style="left:1666px;top:915px;background:#ff5722">锁定</div>
<div class="a ob" style="left:1714px;top:915px;background:#ffb800">编辑</div>
<div class="a ob" style="left:1762px;top:915px;background:#ffb800">积分</div>
<div class="a ob" style="left:1809px;top:915px;background:#ff5722">删除</div>
<div class="a ob" style="left:1619px;top:962px;background:#7b68ee">钱包</div>
<div class="a ob" style="left:1666px;top:962px;background:#ff5722">锁定</div>
<div class="a ob" style="left:1714px;top:962px;background:#ffb800">编辑</div>
<div class="a ob" style="left:1762px;top:962px;background:#ffb800">积分</div>
<div class="a ob" style="left:1809px;top:962px;background:#ff5722">删除</div>
<div class="a ob" style="left:1619px;top:1009px;background:#7b68ee">钱包</div>
<div class="a ob" style="left:1666px;top:1009px;background:#ff5722">锁定</div>
<div class="a ob" style="left:1714px;top:1009px;background:#ffb800">编辑</div>
<div class="a ob" style="left:1762px;top:1009px;background:#ffb800">积分</div>
<div class="a ob" style="left:1809px;top:1009px;background:#ff5722">删除</div>
<div class="a ob" style="left:1619px;top:1056px;background:#7b68ee">钱包</div>
<div class="a ob" style="left:1666px;top:1056px;background:#ff5722">锁定</div>
<div class="a ob" style="left:1714px;top:1056px;background:#ffb800">编辑</div>
<div class="a ob" style="left:1762px;top:1056px;background:#ffb800">积分</div>
<div class="a ob" style="left:1809px;top:1056px;background:#ff5722">删除</div>
<div class="a ob" style="left:1619px;top:1103px;background:#7b68ee">钱包</div>
<div class="a ob" style="left:1666px;top:1103px;background:#ff5722">锁定</div>
<div class="a ob" style="left:1714px;top:1103px;background:#ffb800">编辑</div>
<div class="a ob" style="left:1762px;top:1103px;background:#ffb800">积分</div>
<div class="a ob" style="left:1809px;top:1103px;background:#ff5722">删除</div>
<div class="a" style="left:1896px;top:291px;width:17px;height:837px;background:#f1f1f1;border-left:1px solid #e6e6e6"></div>
<div class="a" style="left:1899px;top:308px;width:13px;height:275px;background:#c1c1c1"></div>
<svg style="left:1902px;top:297px" width="7" height="4" viewBox="0 0 7 4"><path d="M0 4 H7 L3.5 0Z" fill="#a3a3a3"/></svg>
<svg style="left:1902px;top:1117px" width="7" height="4" viewBox="0 0 7 4"><path d="M0 0 H7 L3.5 4Z" fill="#505050"/></svg>
<div class="a" style="left:261px;top:1128px;width:1636px;height:16px;background:#f1f1f1"></div>
<div class="a" style="left:478px;top:1130px;width:1134px;height:13px;background:#c1c1c1"></div>
<div class="a" style="left:1897px;top:1128px;width:16px;height:16px;background:#dcdcdc"></div>
<svg style="left:267px;top:1133px" width="4" height="7" viewBox="0 0 4 7"><path d="M4 0 V7 L0 3.5Z" fill="#505050"/></svg>
<svg style="left:1887px;top:1133px" width="4" height="7" viewBox="0 0 4 7"><path d="M0 0 V7 L4 3.5Z" fill="#505050"/></svg>
<div class="a" style="left:300px;top:1152px;width:51px;height:20px;background:#eee;border-radius:3px"></div>
<div class="a" style="left:413px;top:1152px;width:40px;height:20px;border:1px solid #e2e2e2;border-radius:2px"></div>
<div class="a" style="left:485px;top:1152px;width:46px;height:20px;border:1px solid #e2e2e2;border-radius:2px"></div>
<div class="a" style="left:595px;top:1152px;width:88px;height:20px;border:1px solid #e2e2e2;border-radius:2px"></div>
<svg style="left:0;top:1151px" width="8" height="8" viewBox="0 0 8 8"><path d="M0 0 C0 4.4 3.6 8 8 8 H0Z" fill="#000"/></svg>
<svg style="left:1963px;top:1151px" width="8" height="8" viewBox="0 0 8 8"><path d="M8 0 C8 4.4 4.4 8 0 8 H8Z" fill="#777"/></svg>
</body></html>
